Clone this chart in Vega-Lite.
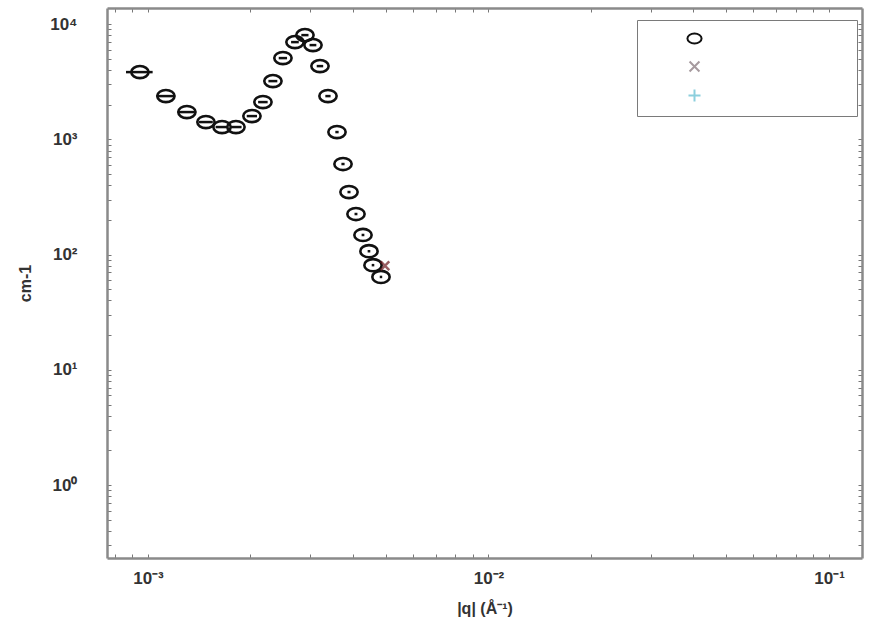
{
  "$schema": "https://vega.github.io/schema/vega-lite/v6.json",
  "width": 755,
  "height": 550,
  "autosize": {"type": "none"},
  "padding": {"left": 107, "top": 8, "right": 15, "bottom": 77},
  "background": "white",
  "config": {
    "view": {"stroke": null},
    "font": "Liberation Sans",
    "axis": {
      "grid": false,
      "domainColor": "#8a8a8a",
      "domainWidth": 2.5,
      "tickColor": "#777777",
      "tickWidth": 1,
      "tickSize": -4,
      "labelFont": "Liberation Sans",
      "labelFontWeight": "bold",
      "labelFontSize": 17,
      "labelColor": "#333333",
      "titleFont": "Liberation Sans",
      "titleFontWeight": "bold",
      "titleFontSize": 16,
      "titleColor": "#333333",
      "labelOverlap": false,
      "labelBound": false,
      "labelFlush": false
    }
  },
  "datasets": {
    "main": [
      {"series": "A", "q": 0.000947, "I": 3834, "dq": 0.000085},
      {"series": "A", "q": 0.001129, "I": 2374, "dq": 0.00007},
      {"series": "A", "q": 0.001301, "I": 1725, "dq": 0.00007},
      {"series": "A", "q": 0.001480, "I": 1413, "dq": 0.00007},
      {"series": "A", "q": 0.001650, "I": 1279, "dq": 0.00007},
      {"series": "A", "q": 0.001813, "I": 1279, "dq": 0.00007},
      {"series": "A", "q": 0.002020, "I": 1592, "dq": 0.00007},
      {"series": "A", "q": 0.002176, "I": 2106, "dq": 0.00007},
      {"series": "A", "q": 0.002328, "I": 3203, "dq": 0.00007},
      {"series": "A", "q": 0.002491, "I": 5072, "dq": 0.00007},
      {"series": "A", "q": 0.002702, "I": 6981, "dq": 0.00007},
      {"series": "A", "q": 0.002891, "I": 8027, "dq": 0.00007},
      {"series": "A", "q": 0.003052, "I": 6575, "dq": 0.00007},
      {"series": "A", "q": 0.003200, "I": 4322, "dq": 0.00007},
      {"series": "A", "q": 0.003378, "I": 2374, "dq": 0.00006},
      {"series": "A", "q": 0.003590, "I": 1157, "dq": 0.00004},
      {"series": "A", "q": 0.003739, "I": 611, "dq": 0.00004},
      {"series": "A", "q": 0.003894, "I": 349, "dq": 0.00004},
      {"series": "A", "q": 0.004082, "I": 225, "dq": 0.00004},
      {"series": "A", "q": 0.004280, "I": 148, "dq": 0.00004},
      {"series": "A", "q": 0.004457, "I": 107, "dq": 0.00004},
      {"series": "A", "q": 0.004580, "I": 81, "dq": 0.00004},
      {"series": "A", "q": 0.004834, "I": 64, "dq": 0.00004}
    ],
    "second": [
      {"series": "B", "q": 0.004966, "I": 80}
    ]
  },
  "layer": [
    {
      "data": {"name": "main"},
      "transform": [
        {"calculate": "datum.q - datum.dq", "as": "qlo"},
        {"calculate": "datum.q + datum.dq", "as": "qhi"}
      ],
      "mark": {"type": "rule", "color": "#111111", "strokeWidth": 2.5},
      "encoding": {
        "x": {
          "field": "qlo", "type": "quantitative",
          "scale": {"type": "log", "domain": [0.000758, 0.125], "nice": false},
          "axis": {
            "orient": "bottom",
            "title": "|q| (Å⁻¹)",
            "titlePadding": 14,
            "labelPadding": 16,
            "values": [0.0008, 0.0009, 0.001, 0.002, 0.003, 0.004, 0.005, 0.006, 0.007, 0.008, 0.009, 0.01, 0.02, 0.03, 0.04, 0.05, 0.06, 0.07, 0.08, 0.09, 0.1],
            "labelExpr": "datum.value == 0.001 ? '10⁻³' : datum.value == 0.01 ? '10⁻²' : datum.value == 0.1 ? '10⁻¹' : ''"
          }
        },
        "x2": {"field": "qhi"},
        "y": {
          "field": "I", "type": "quantitative",
          "scale": {"type": "log", "domain": [0.233, 13800], "nice": false},
          "axis": {
            "orient": "left",
            "title": "cm-1",
            "titlePadding": 16,
            "labelPadding": 34,
            "values": [0.3, 0.4, 0.5, 0.6, 0.7, 0.8, 0.9, 1, 2, 3, 4, 5, 6, 7, 8, 9, 10, 20, 30, 40, 50, 60, 70, 80, 90, 100, 200, 300, 400, 500, 600, 700, 800, 900, 1000, 2000, 3000, 4000, 5000, 6000, 7000, 8000, 9000, 10000],
            "labelExpr": "datum.value == 1 ? '10⁰' : datum.value == 10 ? '10¹' : datum.value == 100 ? '10²' : datum.value == 1000 ? '10³' : datum.value == 10000 ? '10⁴' : ''"
          }
        }
      }
    },
    {
      "data": {"name": "main"},
      "mark": {"type": "point", "filled": false, "strokeWidth": 2.6, "opacity": 1},
      "encoding": {
        "x": {
          "field": "q", "type": "quantitative",
          "axis": {"orient": "top", "labels": false, "title": null,
            "values": [0.0008, 0.0009, 0.001, 0.002, 0.003, 0.004, 0.005, 0.006, 0.007, 0.008, 0.009, 0.01, 0.02, 0.03, 0.04, 0.05, 0.06, 0.07, 0.08, 0.09, 0.1]}
        },
        "y": {
          "field": "I", "type": "quantitative",
          "axis": {"orient": "right", "labels": false, "title": null,
            "values": [0.3, 0.4, 0.5, 0.6, 0.7, 0.8, 0.9, 1, 2, 3, 4, 5, 6, 7, 8, 9, 10, 20, 30, 40, 50, 60, 70, 80, 90, 100, 200, 300, 400, 500, 600, 700, 800, 900, 1000, 2000, 3000, 4000, 5000, 6000, 7000, 8000, 9000, 10000]}
        },
        "color": {
          "field": "series", "type": "nominal",
          "scale": {"domain": ["A", "B", "C"], "range": ["#111111", "#a69a9e", "#8ccfdd"]},
          "legend": {
            "orient": "none",
            "legendX": 530,
            "legendY": 12,
            "title": null,
            "padding": 10,
            "strokeColor": "#7a7a7a",
            "fillColor": "white",
            "symbolOffset": 39,
            "symbolSize": 200,
            "symbolStrokeWidth": 2,
            "rowPadding": 9,
            "labelOffset": 144,
            "labelFontSize": 12,
            "labelExpr": "'\u00a0'"
          }
        },
        "shape": {
          "field": "series", "type": "nominal",
          "scale": {"domain": ["A", "B", "C"], "range": ["M-1,0C-1,-0.387,-0.552,-0.7,0,-0.7C0.552,-0.7,1,-0.387,1,0C1,0.387,0.552,0.7,0,0.7C-0.552,0.7,-1,0.387,-1,0Z", "M-0.7,-0.7L0.7,0.7M0.7,-0.7L-0.7,0.7", "M-0.85,0L0.85,0M0,-0.85L0,0.85"]}
        },
        "size": {"value": 300}
      }
    },
    {
      "data": {"name": "second"},
      "mark": {"type": "point", "filled": false, "strokeWidth": 2.5, "color": "#6e1a20", "shape": "M-0.7,-0.7L0.7,0.7M0.7,-0.7L-0.7,0.7", "size": 150},
      "encoding": {
        "x": {"field": "q", "type": "quantitative", "axis": null},
        "y": {"field": "I", "type": "quantitative", "axis": null}
      }
    }
  ],
  "resolve": {"axis": {"x": "independent", "y": "independent"}}
}
